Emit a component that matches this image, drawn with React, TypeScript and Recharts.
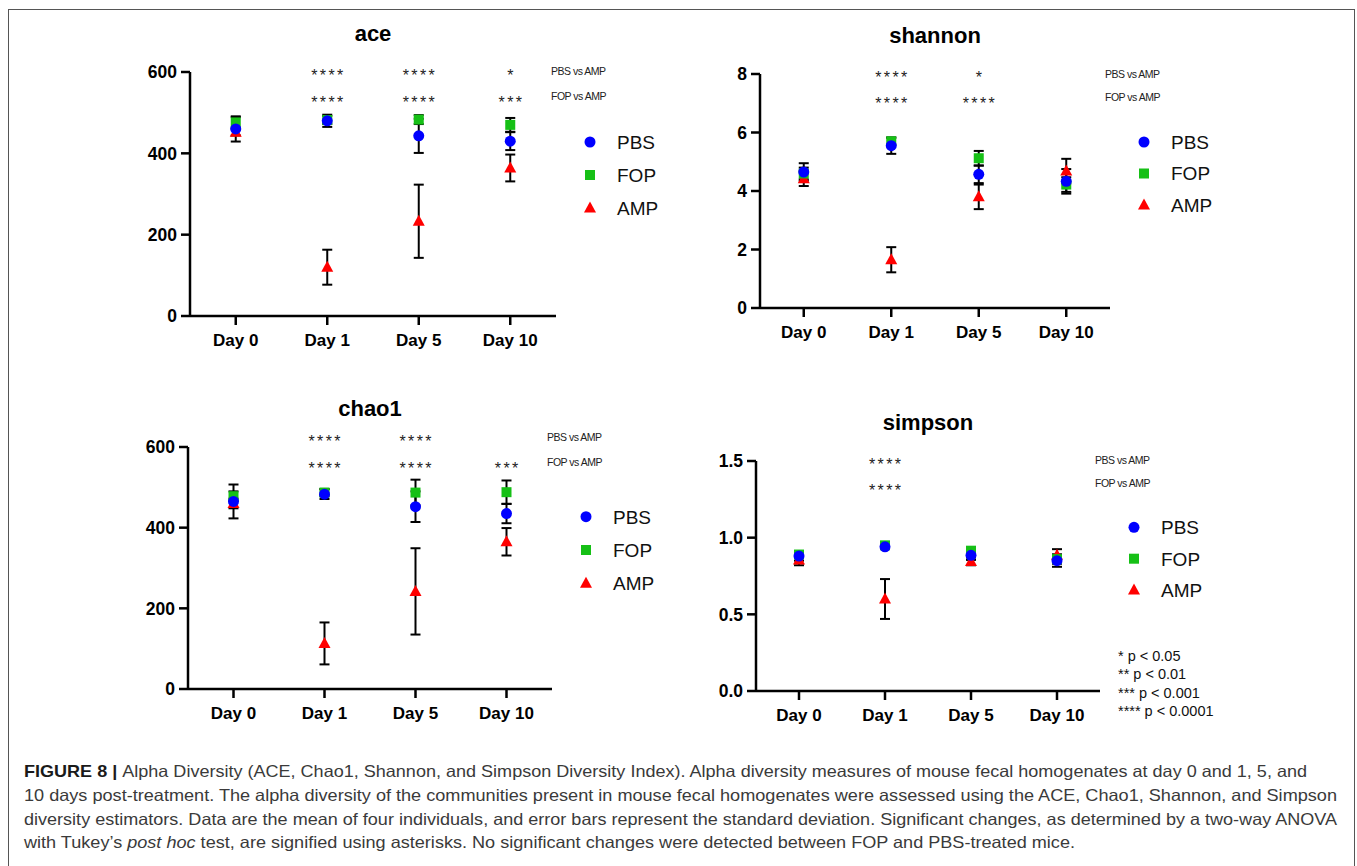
import React from "react";
import { ComposedChart, ErrorBar, Scatter, XAxis, YAxis } from "recharts";

const FONT = "'Liberation Sans', Arial, Helvetica, sans-serif";
const BLUE = "#0000ff";
const GREEN = "#16c016";
const RED = "#ff0000";

const days = ["Day 0", "Day 1", "Day 5", "Day 10"];
const groups = ["PBS", "FOP", "AMP"];

// ace
const acePbs = [460, 480, 443, 430];
const acePbsSd = [31, 15, 42, 22];
const aceFop = [476, 482, 483, 470];
const aceFopSd = [13, 10, 11, 17];
const aceAmp = [452, 120, 233, 364];
const aceAmpSd = [8, 43, 90, 33];
const aceSigPbs = ["", "****", "****", "*"];
const aceSigFop = ["", "****", "****", "***"];

// shannon
const shannonPbs = [4.65, 5.55, 4.57, 4.33];
const shannonPbsSd = [0.3, 0.28, 0.3, 0.42];
const shannonFop = [4.6, 5.7, 5.12, 4.22];
const shannonFopSd = [0.2, 0.12, 0.25, 0.25];
const shannonAmp = [4.42, 1.65, 3.8, 4.68];
const shannonAmpSd = [0.25, 0.43, 0.42, 0.42];
const shannonSigPbs = ["", "****", "*", ""];
const shannonSigFop = ["", "****", "****", ""];

// chao1
const chaoPbs = [465, 483, 452, 435];
const chaoPbsSd = [42, 12, 38, 24];
const chaoFop = [478, 487, 487, 488];
const chaoFopSd = [12, 9, 32, 29];
const chaoAmp = [460, 113, 242, 365];
const chaoAmpSd = [12, 52, 107, 34];
const chaoSigPbs = ["", "****", "****", ""];
const chaoSigFop = ["", "****", "****", "***"];

// simpson
const simpsonPbs = [0.88, 0.94, 0.885, 0.85];
const simpsonPbsSd = [0.03, 0.01, 0.03, 0.04];
const simpsonFop = [0.89, 0.95, 0.915, 0.86];
const simpsonFopSd = [0.02, 0.01, 0.015, 0.03];
const simpsonAmp = [0.855, 0.6, 0.845, 0.885];
const simpsonAmpSd = [0.035, 0.13, 0.025, 0.04];
const simpsonSigPbs = ["", "****", "", ""];
const simpsonSigFop = ["", "****", "", ""];

const pLegend = ["* p < 0.05", "** p < 0.01", "*** p < 0.001", "**** p < 0.0001"];

type Box = { x: number; y: number; w: number; h: number };

type PanelProps = {
  title: string;
  pbs: number[];
  pbsSd: number[];
  fop: number[];
  fopSd: number[];
  amp: number[];
  ampSd: number[];
  sigPbs: string[];
  sigFop: string[];
  yMax: number;
  yTicks: number[];
  decimals: number;
  box: Box;
  starDy: [number, number];
  noteDy: [number, number];
  legendY: number;
  legendGap: number;
};

const ML = 80;
const MT = 30;
const MR = 20;
const MB = 10;
const XH = 45;

const circleShape = (p: any) => <circle cx={p.cx} cy={p.cy} r={5.5} fill={BLUE} />;
const squareShape = (p: any) => (
  <rect x={p.cx - 5} y={p.cy - 5} width={10} height={10} fill={GREEN} />
);
const triangleShape = (p: any) => (
  <polygon
    points={`${p.cx},${p.cy - 6.5} ${p.cx - 6},${p.cy + 4.5} ${p.cx + 6},${p.cy + 4.5}`}
    fill={RED}
  />
);

const starShape = (key: "sigPbs" | "sigFop", dy: number) => (p: any) => (
  <text
    x={p.cx + 1.2}
    y={p.cy + dy + 9}
    textAnchor="middle"
    fontSize={16}
    letterSpacing={2.4}
    fill="#222"
    fontFamily={FONT}
  >
    {p.payload[key]}
  </text>
);

function Panel(props: PanelProps) {
  const { box, yMax } = props;
  const rows = days.map((day, i) => ({
    day,
    pbs: props.pbs[i],
    pbsSd: props.pbsSd[i],
    fop: props.fop[i],
    fopSd: props.fopSd[i],
    amp: props.amp[i],
    ampSd: props.ampSd[i],
    sigPbs: props.sigPbs[i],
    sigFop: props.sigFop[i],
    sigY: yMax,
  }));
  const gap = box.w / 8;
  const axisStyle = { stroke: "#000", strokeWidth: 2.5 };
  const bar = { stroke: "#000", strokeWidth: 2, width: 5 };

  return (
    <div style={{ position: "absolute", left: box.x - ML, top: box.y - MT }}>
      <ComposedChart
        width={box.w + ML + MR}
        height={box.h + MT + MB + XH}
        data={rows}
        margin={{ top: MT, right: MR, bottom: MB, left: 20 }}
      >
        <XAxis
          dataKey="day"
          type="category"
          scale="point"
          padding={{ left: gap, right: gap }}
          height={XH}
          interval={0}
          axisLine={axisStyle}
          tickLine={axisStyle}
          tickSize={9}
          tickMargin={9}
          tick={{ fill: "#000", fontSize: 17, fontWeight: 700, fontFamily: FONT }}
        />
        <YAxis
          type="number"
          domain={[0, yMax]}
          ticks={props.yTicks}
          width={60}
          axisLine={axisStyle}
          tickLine={axisStyle}
          tickSize={9}
          tickMargin={4}
          tickFormatter={(v: number) => v.toFixed(props.decimals)}
          tick={{ fill: "#000", fontSize: 17.5, fontWeight: 700, fontFamily: FONT }}
        />
        <Scatter dataKey="amp" shape={triangleShape} isAnimationActive={false}>
          <ErrorBar dataKey="ampSd" direction="y" {...bar} />
        </Scatter>
        <Scatter dataKey="fop" shape={squareShape} isAnimationActive={false}>
          <ErrorBar dataKey="fopSd" direction="y" {...bar} />
        </Scatter>
        <Scatter dataKey="pbs" shape={circleShape} isAnimationActive={false}>
          <ErrorBar dataKey="pbsSd" direction="y" {...bar} />
        </Scatter>
        <Scatter dataKey="sigY" shape={starShape("sigPbs", props.starDy[0])} isAnimationActive={false} />
        <Scatter dataKey="sigY" shape={starShape("sigFop", props.starDy[1])} isAnimationActive={false} />
      </ComposedChart>
    </div>
  );
}

function PanelText(props: PanelProps) {
  const { box } = props;
  const right = box.x + box.w;
  const lx = right + 34;
  const markers = [
    (y: number) => <circle cx={lx} cy={y} r={5.5} fill={BLUE} />,
    (y: number) => <rect x={lx - 5} y={y - 5} width={10} height={10} fill={GREEN} />,
    (y: number) => (
      <polygon points={`${lx},${y - 6.5} ${lx - 6},${y + 4.5} ${lx + 6},${y + 4.5}`} fill={RED} />
    ),
  ];
  return (
    <g fontFamily={FONT}>
      <text
        x={box.x + box.w / 2}
        y={box.y - 31}
        textAnchor="middle"
        fontSize={22}
        fontWeight={700}
        fill="#000"
      >
        {props.title}
      </text>
      <text x={right - 5} y={box.y + props.noteDy[0] + 3.8} fontSize={10.5} letterSpacing={-0.5} fill="#222">
        PBS vs AMP
      </text>
      <text x={right - 5} y={box.y + props.noteDy[1] + 3.8} fontSize={10.5} letterSpacing={-0.5} fill="#222">
        FOP vs AMP
      </text>
      {groups.map((g, i) => {
        const y = props.legendY + i * props.legendGap;
        return (
          <g key={g}>
            {markers[i](y)}
            <text x={right + 61} y={y + 6.8} fontSize={19} fill="#111">
              {g}
            </text>
          </g>
        );
      })}
    </g>
  );
}

const panels: PanelProps[] = [
  {
    title: "ace",
    pbs: acePbs, pbsSd: acePbsSd, fop: aceFop, fopSd: aceFopSd, amp: aceAmp, ampSd: aceAmpSd,
    sigPbs: aceSigPbs, sigFop: aceSigFop,
    yMax: 600, yTicks: [0, 200, 400, 600], decimals: 0,
    box: { x: 190, y: 72, w: 366, h: 244 },
    starDy: [0, 26.5], noteDy: [-0.7, 24.3], legendY: 142, legendGap: 33,
  },
  {
    title: "shannon",
    pbs: shannonPbs, pbsSd: shannonPbsSd, fop: shannonFop, fopSd: shannonFopSd, amp: shannonAmp, ampSd: shannonAmpSd,
    sigPbs: shannonSigPbs, sigFop: shannonSigFop,
    yMax: 8, yTicks: [0, 2, 4, 6, 8], decimals: 0,
    box: { x: 760, y: 74, w: 350, h: 234 },
    starDy: [0, 25.7], noteDy: [0, 23.4], legendY: 142, legendGap: 31.5,
  },
  {
    title: "chao1",
    pbs: chaoPbs, pbsSd: chaoPbsSd, fop: chaoFop, fopSd: chaoFopSd, amp: chaoAmp, ampSd: chaoAmpSd,
    sigPbs: chaoSigPbs, sigFop: chaoSigFop,
    yMax: 600, yTicks: [0, 200, 400, 600], decimals: 0,
    box: { x: 188, y: 447, w: 364, h: 242 },
    starDy: [-9, 17.7], noteDy: [-9.6, 15], legendY: 516.7, legendGap: 33.3,
  },
  {
    title: "simpson",
    pbs: simpsonPbs, pbsSd: simpsonPbsSd, fop: simpsonFop, fopSd: simpsonFopSd, amp: simpsonAmp, ampSd: simpsonAmpSd,
    sigPbs: simpsonSigPbs, sigFop: simpsonSigFop,
    yMax: 1.5, yTicks: [0, 0.5, 1, 1.5], decimals: 1,
    box: { x: 756, y: 461, w: 344, h: 230 },
    starDy: [0, 25.7], noteDy: [-0.7, 22.3], legendY: 527.3, legendGap: 31.4,
  },
];

export default function App() {
  return (
    <div style={{ position: "absolute", left: 0, top: 0, width: 1357, height: 866, overflow: "hidden", background: "#fff" }}>
      <div
        style={{
          position: "absolute",
          left: 8,
          top: 9,
          width: 1347,
          height: 857,
          boxSizing: "border-box",
          borderTop: "1.5px solid #555",
          borderLeft: "1.5px solid #555",
          borderRight: "1.5px solid #555",
        }}
      />
      {panels.map((p) => (
        <Panel key={p.title} {...p} />
      ))}
      <svg
        width={1357}
        height={866}
        style={{ position: "absolute", left: 0, top: 0, pointerEvents: "none" }}
      >
        {panels.map((p) => (
          <PanelText key={p.title} {...p} />
        ))}
        <g fontFamily={FONT} fontSize={14.5} fill="#111">
          {pLegend.map((t, i) => (
            <text key={t} x={1118} y={[656, 674, 692.7, 710.7][i] + 5}>
              {t}
            </text>
          ))}
        </g>
        <g fontFamily={FONT} fontSize={16.5} fill="#3a3a3a">
          <text x={24} y={777} textLength={1283} lengthAdjust="spacingAndGlyphs">
            <tspan fontWeight={700} fill="#1a1a1a">FIGURE 8 | </tspan>
            Alpha Diversity (ACE, Chao1, Shannon, and Simpson Diversity Index). Alpha diversity measures of mouse fecal homogenates at day 0 and 1, 5, and
          </text>
          <text x={24} y={801} textLength={1313} lengthAdjust="spacingAndGlyphs">
            10 days post-treatment. The alpha diversity of the communities present in mouse fecal homogenates were assessed using the ACE, Chao1, Shannon, and Simpson
          </text>
          <text x={24} y={824.5} textLength={1313} lengthAdjust="spacingAndGlyphs">
            diversity estimators. Data are the mean of four individuals, and error bars represent the standard deviation. Significant changes, as determined by a two-way ANOVA
          </text>
          <text x={24} y={848} textLength={1051} lengthAdjust="spacingAndGlyphs">
            with Tukey’s <tspan fontStyle="italic">post hoc</tspan> test, are signified using asterisks. No significant changes were detected between FOP and PBS-treated mice.
          </text>
        </g>
      </svg>
    </div>
  );
}
